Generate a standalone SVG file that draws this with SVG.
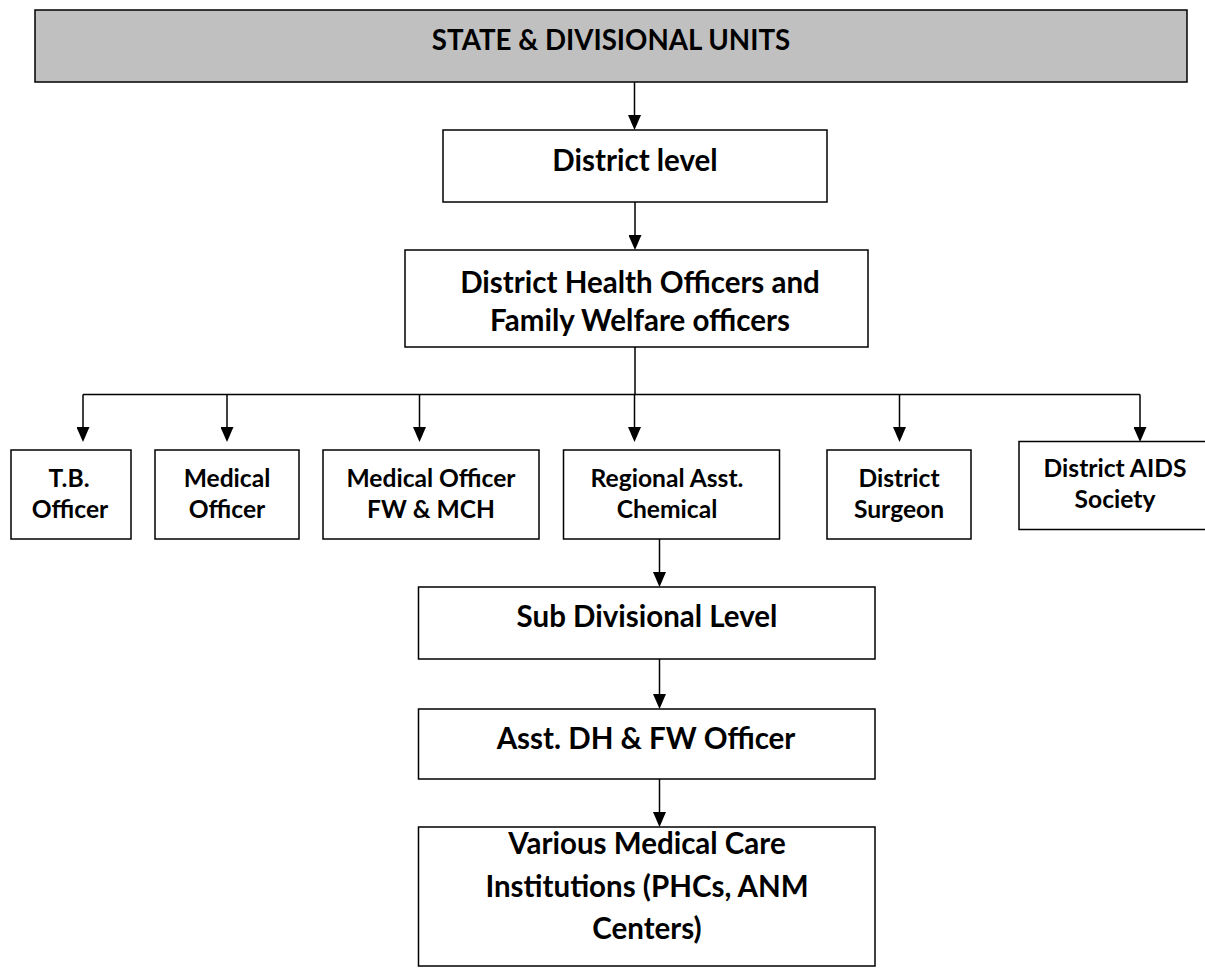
<svg xmlns="http://www.w3.org/2000/svg" width="1205" height="968" viewBox="0 0 1205 968">
  <defs>
    <marker id="arrow" markerUnits="userSpaceOnUse" markerWidth="15" markerHeight="13" viewBox="0 0 15 13" refX="0" refY="6.5" orient="auto">
      <path d="M0,0 L15,6.5 L0,13 Z" fill="#000"/>
    </marker>
    <style>
      .box { fill: #fff; stroke: #000; stroke-width: 1.5; }
      .head { fill: #c0c0c0; stroke: #000; stroke-width: 1.5; }
      .lbl { font-family: Lato, "Liberation Sans", sans-serif; font-weight: bold; fill: #000; text-anchor: middle; }
      .ttl { font-size: 27.7px; }
      .big { font-size: 29.5px; }
      .sml { font-size: 24.6px; }
      .wire { fill: none; stroke: #000; stroke-width: 1.5; }
      .arr { marker-end: url(#arrow); }
    </style>
  </defs>

  <rect width="1205" height="968" fill="#fff"/>

  <!-- connectors -->
  <g id="connectors">
    <path class="wire arr" d="M634.5,82 V115"/>
    <path class="wire arr" d="M635,202 V235"/>
    <path class="wire" d="M635,347 V394.5"/>
    <path class="wire" d="M83,394.5 H1140"/>
    <path class="wire arr" d="M83,394.5 V427"/>
    <path class="wire arr" d="M227,394.5 V427"/>
    <path class="wire arr" d="M419.5,394.5 V427"/>
    <path class="wire arr" d="M634.5,394.5 V427"/>
    <path class="wire arr" d="M899.5,394.5 V427"/>
    <path class="wire arr" d="M1140,394.5 V427"/>
    <path class="wire arr" d="M659.5,539 V572"/>
    <path class="wire arr" d="M659.5,659 V694"/>
    <path class="wire arr" d="M659.5,779 V812"/>
  </g>

  <!-- top level -->
  <g id="state-units">
    <rect class="head" x="35" y="10" width="1152" height="72"/>
    <text class="lbl ttl" x="611" y="50">STATE &amp; DIVISIONAL UNITS</text>
  </g>

  <g id="district-level">
    <rect class="box" x="443" y="130" width="384" height="72"/>
    <text class="lbl big" x="635" y="171">District level</text>
  </g>

  <g id="dho-fwo">
    <rect class="box" x="405" y="250" width="463" height="97"/>
    <text class="lbl big" x="640" y="292.5">District Health Officers and</text>
    <text class="lbl big" x="640" y="331">Family Welfare officers</text>
  </g>

  <!-- district officers row -->
  <g id="tb-officer">
    <rect class="box" x="11" y="450" width="120" height="89"/>
    <text class="lbl sml" x="69" y="486.5">T.B.</text>
    <text class="lbl sml" x="70" y="518">Officer</text>
  </g>

  <g id="medical-officer">
    <rect class="box" x="155" y="450" width="144" height="89"/>
    <text class="lbl sml" x="227" y="486.5">Medical</text>
    <text class="lbl sml" x="227" y="518">Officer</text>
  </g>

  <g id="mo-fw-mch">
    <rect class="box" x="323" y="450" width="216" height="89"/>
    <text class="lbl sml" x="431" y="486.5">Medical Officer</text>
    <text class="lbl sml" x="431" y="518">FW &amp; MCH</text>
  </g>

  <g id="regional-chemical">
    <rect class="box" x="563.5" y="450" width="216" height="89"/>
    <text class="lbl sml" x="667" y="486.5">Regional Asst.</text>
    <text class="lbl sml" x="667" y="518">Chemical</text>
  </g>

  <g id="district-surgeon">
    <rect class="box" x="827" y="450" width="144" height="89"/>
    <text class="lbl sml" x="899" y="486.5">District</text>
    <text class="lbl sml" x="899" y="518">Surgeon</text>
  </g>

  <g id="aids-society">
    <rect class="box" x="1019" y="441.5" width="192" height="88"/>
    <text class="lbl sml" x="1115" y="476.5">District AIDS</text>
    <text class="lbl sml" x="1115" y="508">Society</text>
  </g>

  <!-- sub divisional chain -->
  <g id="sub-divisional">
    <rect class="box" x="418.5" y="587" width="456.5" height="72"/>
    <text class="lbl big" x="647" y="627">Sub Divisional Level</text>
  </g>

  <g id="asst-dh-fw">
    <rect class="box" x="418.5" y="709" width="456.5" height="70"/>
    <text class="lbl big" x="646" y="748.5">Asst. DH &amp; FW Officer</text>
  </g>

  <g id="medical-institutions">
    <rect class="box" x="418.5" y="827" width="456.5" height="139"/>
    <text class="lbl big" x="647" y="854">Various Medical Care</text>
    <text class="lbl big" x="647" y="896.5">Institutions (PHCs, ANM</text>
    <text class="lbl big" x="647" y="938.5">Centers)</text>
  </g>
</svg>
